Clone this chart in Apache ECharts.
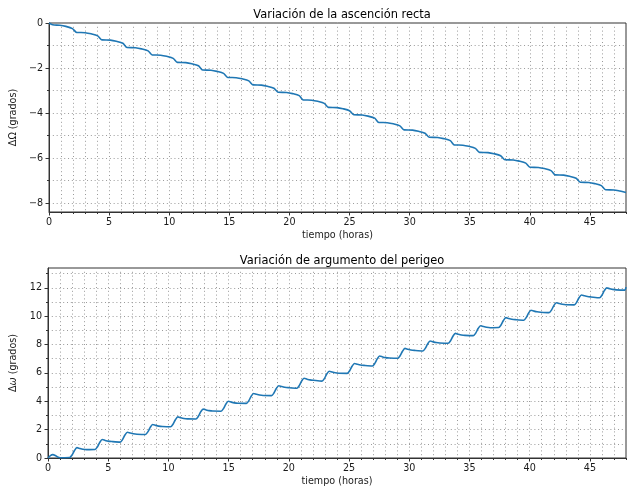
<!DOCTYPE html>
<html><head><meta charset="utf-8">
<script src="https://cdn.jsdelivr.net/npm/echarts@6/dist/echarts.min.js"></script>
<style>html,body{margin:0;padding:0;background:#fff}#c{width:632px;height:491px}</style>
</head><body><div id="c"></div>
<script>
// ---- Data ----
const tiempoRA = [0, 0.3, 0.9, 1.4, 1.95, 2.30, 3.00, 3.50, 4.05, 4.40, 5.10, 5.59, 6.14, 6.49, 7.19, 7.69, 8.24, 8.59, 9.29, 9.78, 10.33, 10.68, 11.38, 11.88, 12.43, 12.78, 13.48, 13.97, 14.52, 14.87, 15.57, 16.07, 16.62, 16.97, 17.67, 18.16, 18.71, 19.06, 19.76, 20.26, 20.81, 21.16, 21.86, 22.35, 22.90, 23.25, 23.95, 24.45, 25.00, 25.35, 26.05, 26.54, 27.09, 27.44, 28.14, 28.64, 29.19, 29.54, 30.24, 30.73, 31.28, 31.63, 32.33, 32.83, 33.38, 33.73, 34.43, 34.92, 35.47, 35.82, 36.52, 37.02, 37.57, 37.92, 38.62, 39.11, 39.66, 40.01, 40.71, 41.21, 41.76, 42.11, 42.81, 43.30, 43.85, 44.20, 44.90, 45.40, 45.95, 46.30, 47.00, 47.49, 48.00];
const deltaRA = [0, -0.08, -0.10, -0.15, -0.25, -0.42, -0.43, -0.48, -0.57, -0.75, -0.76, -0.81, -0.90, -1.09, -1.10, -1.15, -1.24, -1.42, -1.43, -1.48, -1.57, -1.75, -1.76, -1.81, -1.90, -2.09, -2.10, -2.15, -2.24, -2.42, -2.43, -2.48, -2.57, -2.75, -2.76, -2.81, -2.90, -3.08, -3.09, -3.14, -3.23, -3.42, -3.43, -3.48, -3.57, -3.75, -3.76, -3.81, -3.90, -4.08, -4.09, -4.14, -4.23, -4.42, -4.43, -4.48, -4.57, -4.75, -4.76, -4.81, -4.90, -5.08, -5.09, -5.14, -5.23, -5.42, -5.43, -5.48, -5.57, -5.75, -5.76, -5.81, -5.90, -6.08, -6.09, -6.14, -6.23, -6.41, -6.42, -6.47, -6.56, -6.75, -6.76, -6.81, -6.90, -7.08, -7.09, -7.14, -7.23, -7.41, -7.42, -7.47, -7.53];

const tiempoPer = [0, 0.2, 0.4, 0.6, 0.8, 1.0, 1.4,
  1.80, 2.00, 2.20, 2.40, 2.65, 2.90, 3.20,
  3.90, 4.10, 4.30, 4.50, 4.75, 5.00, 5.30,
  5.99, 6.19, 6.39, 6.59, 6.84, 7.09, 7.39,
  8.09, 8.29, 8.49, 8.69, 8.94, 9.19, 9.49,
  10.18, 10.38, 10.58, 10.78, 11.03, 11.28, 11.58,
  12.28, 12.48, 12.68, 12.88, 13.13, 13.38, 13.68,
  14.37, 14.57, 14.77, 14.97, 15.22, 15.47, 15.77,
  16.47, 16.67, 16.87, 17.07, 17.32, 17.57, 17.87,
  18.56, 18.76, 18.96, 19.16, 19.41, 19.66, 19.96,
  20.66, 20.86, 21.06, 21.26, 21.51, 21.76, 22.06,
  22.75, 22.95, 23.15, 23.35, 23.60, 23.85, 24.15,
  24.85, 25.05, 25.25, 25.45, 25.70, 25.95, 26.25,
  26.94, 27.14, 27.34, 27.54, 27.79, 28.04, 28.34,
  29.04, 29.24, 29.44, 29.64, 29.89, 30.14, 30.44,
  31.13, 31.33, 31.53, 31.73, 31.98, 32.23, 32.53,
  33.23, 33.43, 33.63, 33.83, 34.08, 34.33, 34.63,
  35.32, 35.52, 35.72, 35.92, 36.17, 36.42, 36.72,
  37.42, 37.62, 37.82, 38.02, 38.27, 38.52, 38.82,
  39.51, 39.71, 39.91, 40.11, 40.36, 40.61, 40.91,
  41.61, 41.81, 42.01, 42.21, 42.46, 42.71, 43.01,
  43.70, 43.90, 44.10, 44.30, 44.55, 44.80, 45.10,
  45.80, 46.00, 46.20, 46.40, 46.65, 46.90, 47.20,
  47.89, 48.00];
const deltaPer = [0, 0.17, 0.24, 0.18, 0.07, 0.02, 0.02,
  0.03, 0.21, 0.53, 0.73, 0.67, 0.62, 0.59,
  0.60, 0.78, 1.10, 1.30, 1.24, 1.19, 1.16,
  1.12, 1.30, 1.62, 1.82, 1.76, 1.71, 1.68,
  1.66, 1.84, 2.16, 2.36, 2.30, 2.25, 2.22,
  2.20, 2.38, 2.70, 2.90, 2.84, 2.79, 2.76,
  2.75, 2.93, 3.25, 3.45, 3.39, 3.34, 3.31,
  3.30, 3.48, 3.80, 4.00, 3.94, 3.89, 3.86,
  3.85, 4.03, 4.35, 4.55, 4.49, 4.44, 4.41,
  4.40, 4.58, 4.90, 5.10, 5.04, 4.99, 4.96,
  4.92, 5.10, 5.42, 5.62, 5.56, 5.51, 5.48,
  5.42, 5.60, 5.92, 6.12, 6.06, 6.01, 5.98,
  5.97, 6.15, 6.47, 6.67, 6.61, 6.56, 6.53,
  6.49, 6.67, 6.99, 7.19, 7.13, 7.08, 7.05,
  7.03, 7.21, 7.53, 7.73, 7.67, 7.62, 7.59,
  7.55, 7.73, 8.05, 8.25, 8.19, 8.14, 8.11,
  8.09, 8.27, 8.59, 8.79, 8.73, 8.68, 8.65,
  8.63, 8.81, 9.13, 9.33, 9.27, 9.22, 9.19,
  9.20, 9.38, 9.70, 9.90, 9.84, 9.79, 9.76,
  9.72, 9.90, 10.22, 10.42, 10.36, 10.31, 10.28,
  10.25, 10.43, 10.75, 10.95, 10.89, 10.84, 10.81,
  10.80, 10.98, 11.30, 11.50, 11.44, 11.39, 11.36,
  11.30, 11.48, 11.80, 12.00, 11.94, 11.89, 11.86,
  11.84, 12.05];

// ---- Ticks ----
const xMajorTicks = [0, 5, 10, 15, 20, 25, 30, 35, 40, 45];
const xMinorTicks = [0,1,2,3,4,5,6,7,8,9,10,11,12,13,14,15,16,17,18,19,20,21,22,23,24,25,26,27,28,29,30,31,32,33,34,35,36,37,38,39,40,41,42,43,44,45,46,47,48];
const yTopMajorTicks = [-8, -6, -4, -2, 0];
const yTopMinorTicks = [-8, -7, -6, -5, -4, -3, -2, -1, 0];
const yBotMajorTicks = [0, 2, 4, 6, 8, 10, 12];
const yBotMinorTicks = [0, 1, 2, 3, 4, 5, 6, 7, 8, 9, 10, 11, 12, 13];

const titles = ['Variación de la ascención recta', 'Variación de argumento del perigeo'];
const xName = 'tiempo (horas)';

const FONT = 'DejaVu Sans';
const TXT = '#1a1a1a';
const fmt = v => String(v).replace('-', '\u2212');
const gridLine = { show: true, lineStyle: { color: '#9a9a9a', width: 1, type: [1, 2.8] } };

function xAxes(gi) {
  return [
    { type: 'value', gridIndex: gi, position: 'bottom', offset: 0, min: 0, max: 48,
      axisLine: { show: true, onZero: false, lineStyle: { color: '#333', width: 1 } },
      axisTick: { show: true, customValues: xMinorTicks, length: 2, lineStyle: { color: '#333' } },
      axisLabel: { show: false }, splitLine: gridLine },
    { type: 'value', gridIndex: gi, position: 'bottom', offset: 0, min: 0, max: 48,
      axisLine: { show: false, onZero: false },
      axisTick: { show: true, customValues: xMajorTicks, length: 3.5, lineStyle: { color: '#333' } },
      axisLabel: { customValues: xMajorTicks, formatter: fmt, fontFamily: FONT, fontSize: 9.6, color: TXT, margin: 5 },
      splitLine: { show: false },
      name: xName, nameLocation: 'middle', nameGap: 18,
      nameTextStyle: { fontFamily: FONT, fontSize: 9.6, color: TXT } }
  ];
}
function yAxes(gi, min, max, minor, major, name, rich) {
  return [
    { type: 'value', gridIndex: gi, position: 'left', offset: 0, min: min, max: max,
      axisLine: { show: true, onZero: false, lineStyle: { color: '#333', width: 1 } },
      axisTick: { show: true, customValues: minor, length: 2, lineStyle: { color: '#333' } },
      axisLabel: { show: false }, splitLine: gridLine },
    { type: 'value', gridIndex: gi, position: 'left', offset: 0, min: min, max: max,
      axisLine: { show: false, onZero: false },
      axisTick: { show: true, customValues: major, length: 3.5, lineStyle: { color: '#333' } },
      axisLabel: { customValues: major, formatter: fmt, fontFamily: FONT, fontSize: 9.6, color: TXT, margin: 6 },
      splitLine: { show: false },
      name: name, nameLocation: 'middle', nameGap: 25, nameRotate: 90,
      nameTextStyle: { fontFamily: FONT, fontSize: 9.6, color: TXT, rich: rich } }
  ];
}

const chart = echarts.init(document.getElementById('c'), null, { renderer: 'canvas' });
chart.setOption({
  animation: false,
  backgroundColor: '#fff',
  title: [
    { text: titles[0], left: 337, top: 5, textAlign: 'center',
      textStyle: { fontFamily: FONT, fontSize: 11.4, fontWeight: 'normal', color: '#000' } },
    { text: titles[1], left: 337, top: 251, textAlign: 'center',
      textStyle: { fontFamily: FONT, fontSize: 11.4, fontWeight: 'normal', color: '#000' } }
  ],
  grid: [
    { left: 48, right: 6, top: 23, height: 189, show: true, borderColor: '#333', borderWidth: 1, containLabel: false },
    { left: 48, right: 6, top: 268, height: 190, show: true, borderColor: '#333', borderWidth: 1, containLabel: false }
  ],
  xAxis: xAxes(0).concat(xAxes(1)),
  yAxis: yAxes(0, -8.4, 0, yTopMinorTicks, yTopMajorTicks, '\u0394\u03A9 (grados)', {})
    .concat(yAxes(1, 0, 13.4, yBotMinorTicks, yBotMajorTicks, '{d|\u0394}{w|\u03C9}{d| (grados)}',
      { d: { fontFamily: FONT, fontSize: 9.6, color: TXT }, w: { fontFamily: FONT, fontSize: 9.6, fontStyle: 'italic', color: TXT } })),
  series: [
    { type: 'line', xAxisIndex: 0, yAxisIndex: 0, showSymbol: false, smooth: 0.25,
      lineStyle: { color: '#1f77b4', width: 1.6 }, itemStyle: { color: '#1f77b4' },
      data: tiempoRA.map((t, i) => [t, deltaRA[i]]) },
    { type: 'line', xAxisIndex: 2, yAxisIndex: 2, showSymbol: false, smooth: 0.25,
      lineStyle: { color: '#1f77b4', width: 1.6 }, itemStyle: { color: '#1f77b4' },
      data: tiempoPer.map((t, i) => [t, deltaPer[i]]) }
  ]
});
</script>
</body></html>
